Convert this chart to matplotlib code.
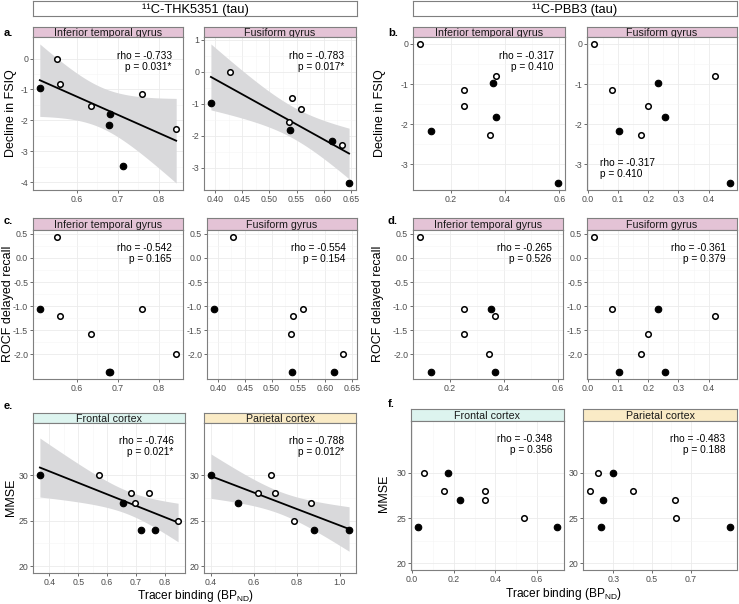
import numpy as np
import matplotlib.pyplot as plt
from matplotlib.ticker import FormatStrFormatter

plt.rcParams['font.family'] = ['Liberation Sans', 'DejaVu Sans']
plt.rcParams['axes.unicode_minus'] = False

# ==============================================
# 9 patients; filled marker = one group, open marker = the other
filled = np.array([True, False, False, False, True, True, True, False, False])

fsiq = np.array([-0.97, 0.0, -0.81, -1.55, -1.81, -2.16, -3.47, -1.16, -2.27])
rocf = np.array([-1.05, 0.44, -1.21, -1.57, -2.37, -2.37, np.nan, -1.05, -2.00])
mmse = np.array([30, 30, 28, 28, 27, 24, 24, 27, 25], dtype=float)

thk_itg = np.array([0.510, 0.552, 0.558, 0.635, 0.680, 0.678, 0.712, 0.758, 0.842])
thk_fus = np.array([0.392, 0.427, 0.541, 0.537, 0.538, 0.616, 0.647, 0.558, 0.634])
thk_front = np.array([0.367, 0.573, 0.682, 0.744, 0.655, 0.717, 0.767, 0.697, 0.846])
thk_par = np.array([0.400, 0.678, 0.621, 0.697, 0.524, 0.881, 1.044, 0.866, 0.785])

pbb_itg = np.array([0.354, 0.087, 0.368, 0.250, 0.368, 0.127, 0.595, 0.250, 0.345])
pbb_fus = np.array([0.233, 0.020, 0.420, 0.199, 0.256, 0.104, 0.471, 0.079, 0.176])
pbb_front = np.array([0.172, 0.057, 0.152, 0.349, 0.229, 0.028, 0.697, 0.349, 0.538])
pbb_par = np.array([0.297, 0.2235, 0.180, 0.401, 0.246, 0.239, 0.904, 0.617, 0.627])

stats_a = ["rho = -0.733\np = 0.031*", "rho = -0.783\np = 0.017*"]
stats_b = ["rho = -0.317\np = 0.410", "rho = -0.317\np = 0.410"]
stats_c = ["rho = -0.542\np = 0.165", "rho = -0.554\np = 0.154"]
stats_d = ["rho = -0.265\np = 0.526", "rho = -0.361\np = 0.379"]
stats_e = ["rho = -0.746\np = 0.021*", "rho = -0.788\np = 0.012*"]
stats_f = ["rho = -0.348\np = 0.356", "rho = -0.483\np = 0.188"]

T_CRIT = 2.365  # t(0.975, df=7)

pink, cyan, yellow = "#E4C3D6", "#DDF4EF", "#FAEBC6"
border = "#7F7F7F"

W, H = 739, 604
fig = plt.figure(figsize=(W / 100, H / 100), dpi=100)


def box(l, r, t, b):
    return [l / W, 1 - b / H, (r - l) / W, (b - t) / H]


def lm_band(x, y, xs):
    b, a = np.polyfit(x, y, 1)
    yhat = a + b * xs
    res = y - (a + b * x)
    n = len(x)
    s = np.sqrt(np.sum(res ** 2) / (n - 2))
    se = s * np.sqrt(1 / n + (xs - x.mean()) ** 2 / np.sum((x - x.mean()) ** 2))
    return yhat, yhat - T_CRIT * se, yhat + T_CRIT * se


def panel(pos, x, y, title, strip_col, stats, loc, fit, xticks, xfmt, yticks, yfmt, ylim=None):
    l, r, st, sb, b = pos
    # strip
    sax = fig.add_axes(box(l, r, st, sb))
    sax.set_facecolor(strip_col)
    sax.set_xticks([]); sax.set_yticks([])
    for sp in sax.spines.values():
        sp.set_color(border); sp.set_linewidth(0.8)
    sax.text(0.5, 0.42, title, ha="center", va="center", fontsize=7.7, color="#1A1A1A",
             transform=sax.transAxes)

    ax = fig.add_axes(box(l, r, sb, b))
    # x scale is trained on every patient, also those with a missing y
    span = x.max() - x.min()
    ok = ~np.isnan(y)
    xv, yv, f = x[ok], y[ok], filled[ok]
    if fit:
        xs = np.linspace(xv.min(), xv.max(), 100)
        yhat, lo, hi = lm_band(xv, yv, xs)
        ax.fill_between(xs, lo, hi, color="#D9D9DB", lw=0, zorder=2)
        ax.plot(xs, yhat, color="black", lw=1.3, zorder=3)
    ax.scatter(xv[~f], yv[~f], s=16, facecolor="white", edgecolor="black", lw=1.1, zorder=4)
    ax.scatter(xv[f], yv[f], s=22, facecolor="black", edgecolor="black", lw=0.8, zorder=4)

    ax.set_xticks(xticks)
    ax.set_yticks(yticks)
    xt = np.array(xticks); yt = np.array(yticks)
    ax.set_xticks((xt[:-1] + xt[1:]) / 2, minor=True)
    ax.set_yticks((yt[:-1] + yt[1:]) / 2, minor=True)
    ax.xaxis.set_major_formatter(FormatStrFormatter(xfmt))
    ax.yaxis.set_major_formatter(FormatStrFormatter(yfmt))
    ax.grid(which="major", color="#EBEBEB", lw=0.6, zorder=0)
    ax.grid(which="minor", color="#F5F5F5", lw=0.4, zorder=0)
    ax.set_axisbelow(True)
    ax.tick_params(which="major", length=2, width=0.6, color="#555555", labelsize=6.3,
                   labelcolor="#4D4D4D", pad=1.5)
    ax.tick_params(which="minor", length=0)
    for sp in ax.spines.values():
        sp.set_color(border); sp.set_linewidth(0.8)
    ax.margins(y=0.05)
    ax.set_xlim(x.min() - 0.05 * span, x.max() + 0.05 * span)
    if ylim is not None:
        ax.set_ylim(*ylim)

    if loc == "tr":
        ax.text(0.925, 0.91, stats, ha="right", va="top", multialignment="right",
                fontsize=7.3, linespacing=1.1, transform=ax.transAxes, zorder=5)
    else:
        ax.text(0.09, 0.075, stats, ha="left", va="bottom", multialignment="left",
                fontsize=7.3, linespacing=1.1, transform=ax.transAxes, zorder=5)
    return ax


# ==============================================
itg, fus = "Inferior temporal gyrus", "Fusiform gyrus"
front, par = "Frontal cortex", "Parietal cortex"
mm_lim = (19.25, 35.75)
rc_ticks = [-2.0, -1.5, -1.0, -0.5, 0.0, 0.5]

# row a / b
panel((33, 183, 27, 37, 190), thk_itg, fsiq, itg, pink, stats_a[0], "tr", True,
      [0.6, 0.7, 0.8], "%.1f", [-4, -3, -2, -1, 0], "%d")
panel((204, 356, 27, 37, 190), thk_fus, fsiq, fus, pink, stats_a[1], "tr", True,
      [0.40, 0.45, 0.50, 0.55, 0.60, 0.65], "%.2f", [-3, -2, -1, 0, 1], "%d")
panel((413, 565, 27, 37, 190), pbb_itg, fsiq, itg, pink, stats_b[0], "tr", False,
      [0.2, 0.4, 0.6], "%.1f", [-3, -2, -1, 0], "%d")
panel((587, 737, 27, 37, 190), pbb_fus, fsiq, fus, pink, stats_b[1], "bl", False,
      [0.0, 0.1, 0.2, 0.3, 0.4], "%.1f", [-3, -2, -1, 0], "%d")

# row c / d
panel((33, 183, 218, 230, 379), thk_itg, rocf, itg, pink, stats_c[0], "tr", False,
      [0.6, 0.7, 0.8], "%.1f", rc_ticks, "%.1f")
panel((207, 357, 218, 230, 379), thk_fus, rocf, fus, pink, stats_c[1], "tr", False,
      [0.40, 0.45, 0.50, 0.55, 0.60, 0.65], "%.2f", rc_ticks, "%.1f")
panel((413, 563, 218, 230, 379), pbb_itg, rocf, itg, pink, stats_d[0], "tr", False,
      [0.2, 0.4, 0.6], "%.1f", rc_ticks, "%.1f")
panel((587, 737, 218, 230, 379), pbb_fus, rocf, fus, pink, stats_d[1], "tr", False,
      [0.0, 0.1, 0.2, 0.3, 0.4], "%.1f", rc_ticks, "%.1f")

# row e / f
panel((33, 185, 413, 423, 573), thk_front, mmse, front, cyan, stats_e[0], "tr", True,
      [0.4, 0.5, 0.6, 0.7, 0.8], "%.1f", [20, 25, 30], "%d", mm_lim)
panel((204, 356, 413, 423, 573), thk_par, mmse, par, yellow, stats_e[1], "tr", True,
      [0.4, 0.6, 0.8, 1.0], "%.1f", [20, 25, 30], "%d", mm_lim)
panel((411, 564, 409, 421, 570), pbb_front, mmse, front, cyan, stats_f[0], "tr", False,
      [0.0, 0.2, 0.4, 0.6], "%.1f", [20, 25, 30], "%d", mm_lim)
panel((583, 737, 409, 421, 570), pbb_par, mmse, par, yellow, stats_f[1], "tr", False,
      [0.3, 0.5, 0.7], "%.1f", [20, 25, 30], "%d", mm_lim)

# tracer header boxes
for l, r, label in [(33, 357, "¹¹C-THK5351 (tau)"), (413, 737, "¹¹C-PBB3 (tau)")]:
    hax = fig.add_axes(box(l, r, 1, 16))
    hax.set_xticks([]); hax.set_yticks([])
    for sp in hax.spines.values():
        sp.set_color(border); sp.set_linewidth(0.8)
    hax.text(0.5, 0.42, label, ha="center", va="center", fontsize=9.3, transform=hax.transAxes)

# panel letters
for x, y, s in [(4, 33, "a."), (388, 33, "b."), (4, 221, "c."), (388, 221, "d."),
                (4, 406, "e."), (388, 404, "f.")]:
    fig.text(x / W, 1 - y / H, s, fontsize=8, fontweight="bold", va="center")

# axis titles
for x, y, s in [(11, 113, "Decline in FSIQ"), (380, 113, "Decline in FSIQ"),
                (8.5, 304, "ROCF delayed recall"), (378, 304, "ROCF delayed recall"),
                (11, 497, "MMSE"), (384, 493, "MMSE")]:
    fig.text(x / W, 1 - y / H, s, fontsize=9, rotation=90, ha="center", va="center")

xlab = r"Tracer binding (BP$_{\mathregular{ND}}$)"
fig.text(195 / W, 1 - 596 / H, xlab, fontsize=8.6, ha="center", va="center")
fig.text(563 / W, 1 - 594 / H, xlab, fontsize=8.6, ha="center", va="center")

plt.savefig("out.png", dpi=100)
